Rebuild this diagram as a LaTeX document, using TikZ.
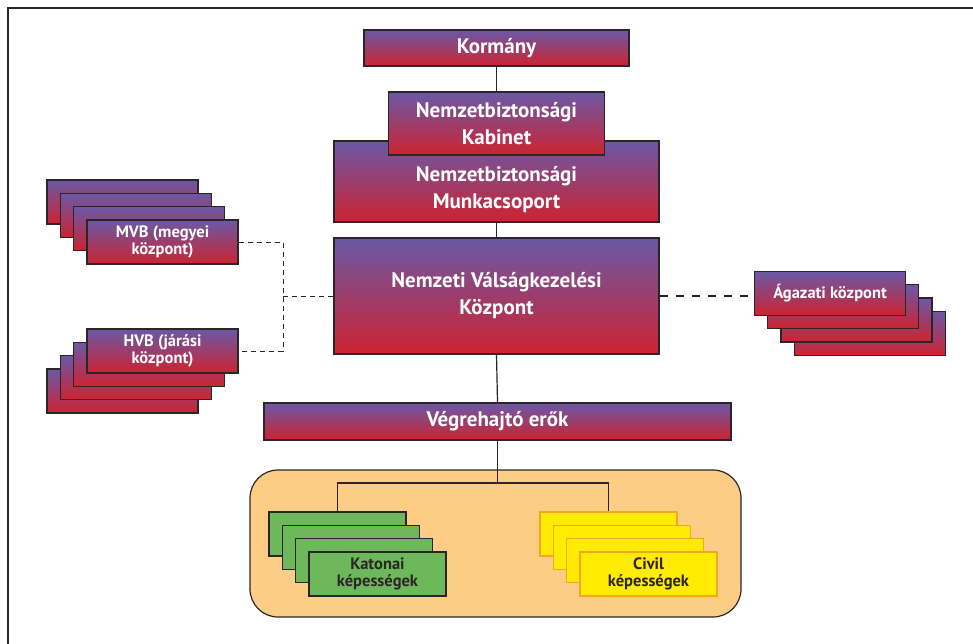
\documentclass[tikz,border=0pt]{standalone}
\usepackage{fontspec}
\setmainfont{PT Sans}
\definecolor{boxtop}{HTML}{6A58A6}
\definecolor{boxbot}{HTML}{CD2330}
\definecolor{edge}{HTML}{2B2527}
\definecolor{milgreen}{HTML}{6DB85A}
\definecolor{civyellow}{HTML}{FFEC00}
\definecolor{civedge}{HTML}{F6A623}
\definecolor{panelfill}{HTML}{FDCD86}
\tikzset{
  unit/.style={draw=edge, line width=1.3pt, top color=boxtop, bottom color=boxbot,
    text=white, font=\bfseries\fontsize{21}{27}\selectfont, align=center, inner sep=0pt},
  unitlabel/.style={text=white, font=\bfseries\fontsize{21}{27}\selectfont, align=center, inner sep=0pt},
  subunit/.style={unit, font=\bfseries\fontsize{16.5}{17}\selectfont,
    minimum width=151pt, minimum height=44pt},
  milbox/.style={draw=edge, line width=1.3pt, fill=milgreen, text=edge,
    font=\bfseries\fontsize{16.5}{17}\selectfont, align=center, inner sep=0pt,
    minimum width=137pt, minimum height=44pt},
  civbox/.style={milbox, draw=civedge, fill=civyellow},
  panel/.style={draw=edge, line width=1.2pt, fill=panelfill, rounded corners=28pt},
  link/.style={draw=edge, line width=1.2pt},
}
\begin{document}
\begin{tikzpicture}[x=1pt, y=-1pt]
  \useasboundingbox (0,0) rectangle (973,644);
  % Frame
  \draw[edge, line width=1.5pt] (8,644) -- (8,8) -- (973,8);
  % Main column
  \node[unit, minimum width=265pt, minimum height=36pt] (korm) at (496.5,48) {Kormány};
  \node[unit, minimum width=325pt, minimum height=81pt] (munka) at (496.5,181.5) {};
  \node[unitlabel] (munkatext) at (496.5,190) {Nemzetbiztonsági\\Munkacsoport};
  \node[unit, minimum width=216pt, minimum height=63pt] (kab) at (496.5,123.5) {Nemzetbiztonsági\\Kabinet};
  \node[unit, minimum width=325pt, minimum height=116pt] (nvk) at (496.5,296) {Nemzeti Válságkezelési\\Központ};
  \node[unit, minimum width=467pt, minimum height=37pt] (vegre) at (497.5,421.5) {Végrehajtó erők};
  \draw[link] (korm.south) -- (kab.north);
  \draw[link] (munka.south) -- (nvk.north);
  \draw[link] (nvk.south) -- (vegre.north);
  % Left stacks
  \foreach \i in {3,2,1}
    \node[subunit] (mvb-\i) at ({162.5-13.3*\i},{242-13.3*\i}) {};
  \node[subunit] (mvb) at (162.5,242) {MVB (megyei\\központ)};
  \foreach \i in {3,2,1}
    \node[subunit] (hvb-\i) at ({162.5-13.3*\i},{351+13.3*\i}) {};
  \node[subunit] (hvb) at (162.5,351) {HVB (járási\\központ)};
  \coordinate (mid) at (283,296);
  \draw[link, line width=1pt, dash pattern=on 5pt off 4pt] (mvb.east) -| (mid) |- (hvb.east);
  \draw[link, line width=1pt, dash pattern=on 5pt off 4pt] (mid) -- (nvk.west);
  % Right stack
  \foreach \i in {3,2,1}
    \node[subunit] (aga-\i) at ({830+13.3*\i},{293.5+13.3*\i}) {};
  \node[subunit] (aga) at (830,293.5) {Ágazati központ};
  \draw[link, line width=2.2pt, dash pattern=on 8pt off 8pt] (nvk.east) -- (nvk.east -| aga.west);
  % Capabilities
  \draw[panel] (250,470) rectangle (741,617);
  \foreach \i in {3,2,1}
    \node[milbox] (kat-\i) at ({377.5-13.3*\i},{574-13.3*\i}) {};
  \node[milbox] (kat) at (377.5,574) {Katonai\\képességek};
  \foreach \i in {3,2,1}
    \node[civbox] (civ-\i) at ({648.5-13.3*\i},{574-13.3*\i}) {};
  \node[civbox] (civ) at (648.5,574) {Civil\\képességek};
  \coordinate (fork) at (497.5,483);
  \draw[link] (vegre.south) -- (fork);
  \draw[link] (kat-3.north) |- (fork) -| (civ-3.north);
\end{tikzpicture}
\end{document}
